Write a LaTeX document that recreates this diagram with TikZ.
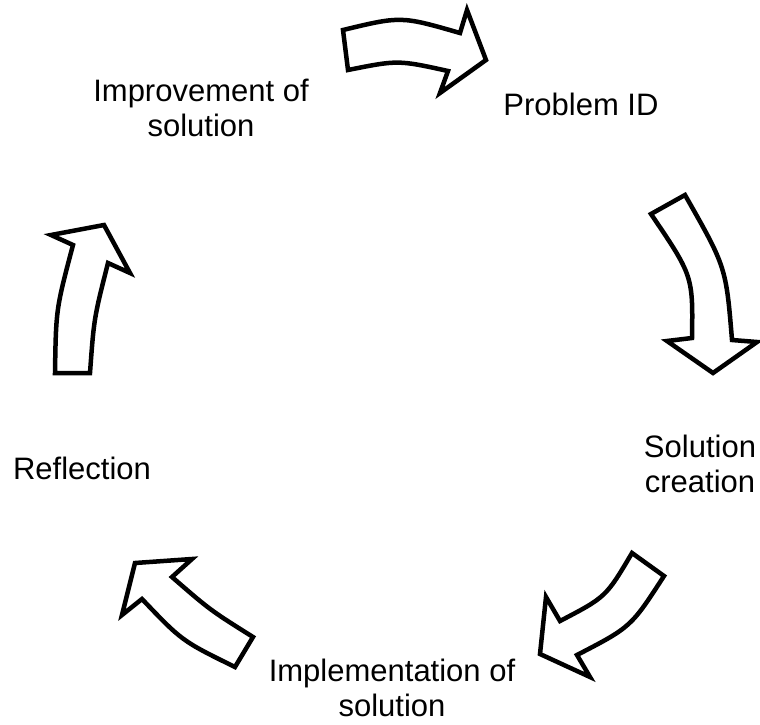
\documentclass[tikz,border=0pt]{standalone}
\usepackage{fontspec}
\setmainfont{Liberation Sans}
\begin{document}
\begin{tikzpicture}[x=1pt, y=-1pt,
	blockarrow/.style={draw=black, fill=white, line width=4.5pt, line join=miter},
	stage/.style={align=center, inner sep=0pt, anchor=base, font=\fontsize{31}{35}\selectfont}]
	\useasboundingbox (0, 0) rectangle (760, 725);
	\draw[blockarrow] (343, 30) .. controls (401, 16) .. (460, 33) -- (467, 10) -- (486, 60) -- (440, 93) -- (448, 71) .. controls (398, 60) .. (348, 70) -- cycle;
	\draw[blockarrow] (651, 214) -- (685, 195) .. controls (726, 267) .. (732, 340) -- (757, 342) -- (713, 373) -- (667, 341) -- (692, 338) .. controls (693, 276) .. cycle;
	\draw[blockarrow] (632, 553) -- (664, 576) .. controls (631, 627) .. (577, 655) -- (590, 677) -- (540, 654) -- (546, 597) -- (560, 621) .. controls (606, 597) .. cycle;
	\draw[blockarrow] (253, 637) -- (235, 667) .. controls (182, 641) .. (142, 599) -- (122, 615) -- (135, 563) -- (192, 559) -- (172, 577) .. controls (210, 610) .. cycle;
	\draw[blockarrow] (55, 373) -- (90, 373) .. controls (94, 318) .. (108, 263) -- (130, 273) -- (104, 225) -- (51, 235) -- (73, 245) .. controls (56, 309) .. cycle;
	\node[stage] (improve) at (201, 136) {Improvement of\\solution};
	\node[stage] (problem) at (581, 115) {Problem ID};
	\node[stage] (creation) at (700, 492) {Solution\\creation};
	\node[stage] (reflect) at (82, 479) {Reflection};
	\node[stage] (implement) at (392, 716) {Implementation of\\solution};
\end{tikzpicture}
\end{document}
